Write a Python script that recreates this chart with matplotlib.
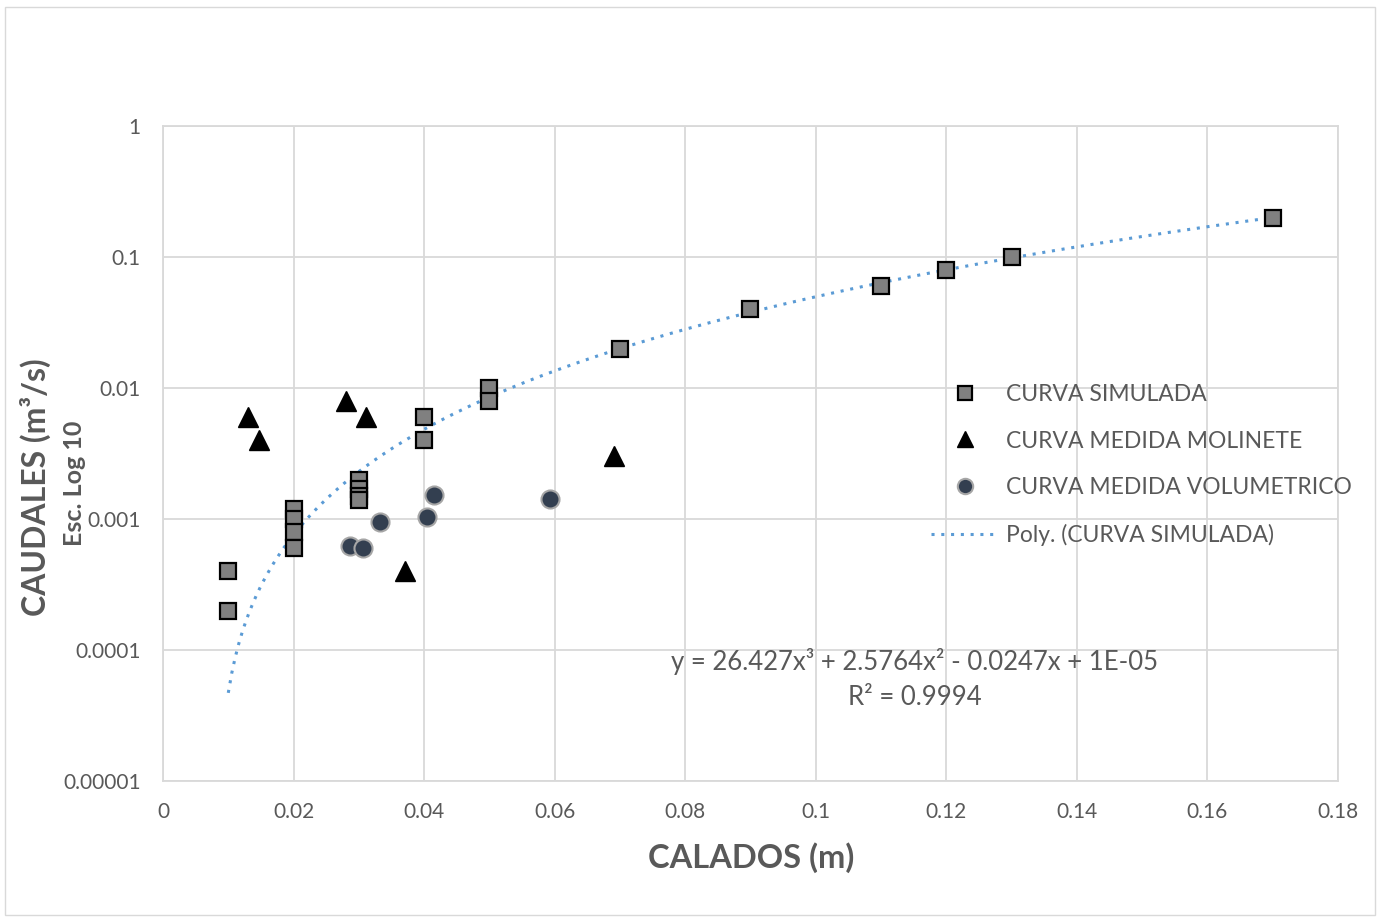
import numpy as np
import matplotlib
matplotlib.use("Agg")
import matplotlib.pyplot as plt
from matplotlib.ticker import FixedLocator, FuncFormatter, NullLocator
from matplotlib.patches import Rectangle

plt.rcParams['font.family'] = ['Lato', 'DejaVu Sans']

# CURVA SIMULADA
sim_x = [0.01, 0.01, 0.02, 0.02, 0.02, 0.02, 0.03, 0.03, 0.03, 0.03,
         0.04, 0.04, 0.05, 0.05, 0.07, 0.09, 0.11, 0.12, 0.13, 0.17]
sim_q = [0.0004, 0.0002, 0.0012, 0.001, 0.0008, 0.0006, 0.002, 0.0017, 0.0015, 0.0014,
         0.006, 0.004, 0.01, 0.008, 0.02, 0.04, 0.06, 0.08, 0.1, 0.2]

# CURVA MEDIDA MOLINETE
mol_x = [0.013, 0.0147, 0.028, 0.0311, 0.0371, 0.0691]
mol_q = [0.006, 0.004, 0.008, 0.006, 0.0004, 0.003]

# CURVA MEDIDA VOLUMETRICO
vol_x = [0.0286, 0.0306, 0.0332, 0.0404, 0.0415, 0.0593]
vol_q = [0.00062, 0.0006, 0.00095, 0.00104, 0.00152, 0.00142]

# Poly. (CURVA SIMULADA) coefficients as shown on the chart
poly_coef = [26.427, 2.5764, -0.0247, 1e-05]
poly_range = [0.01, 0.17]

x_ticks = [0, 0.02, 0.04, 0.06, 0.08, 0.1, 0.12, 0.14, 0.16, 0.18]
y_ticks = [0.00001, 0.0001, 0.001, 0.01, 0.1, 1]
y_labels = ['0.00001', '0.0001', '0.001', '0.01', '0.1', '1']

grey = '#595959'
W, H = 1381, 918
fig = plt.figure(figsize=(W / 100, H / 100), dpi=100)
fig.patches.append(Rectangle((5 / W, 3 / H), 1370 / W, 908 / H, transform=fig.transFigure,
                             fill=False, edgecolor='#d9d9d9', linewidth=1))
ax = fig.add_axes([163 / W, 1 - 781 / H, 1175 / W, 655 / H])

ax.set_yscale('log')
ax.set_xlim(0, 0.18)
ax.set_ylim(1e-5, 1)

xs = np.linspace(poly_range[0], poly_range[1], 300)
ax.plot(xs, np.polyval(poly_coef, xs), linestyle=(0, (1, 2.2)), color='#5b9bd5',
        linewidth=2.2, label='Poly. (CURVA SIMULADA)', zorder=2)

ax.plot(sim_x, sim_q, 's', markersize=12, markerfacecolor='#808080',
        markeredgecolor='black', markeredgewidth=1.6, label='CURVA SIMULADA', zorder=3)
ax.plot(mol_x, mol_q, '^', markersize=14, markerfacecolor='black',
        markeredgecolor='black', label='CURVA MEDIDA MOLINETE', zorder=3)
ax.plot(vol_x, vol_q, 'o', markersize=13, markerfacecolor='#333f50',
        markeredgecolor='#a6a6a6', markeredgewidth=1.5, label='CURVA MEDIDA VOLUMETRICO', zorder=3)

ax.xaxis.set_major_locator(FixedLocator(x_ticks))
ax.xaxis.set_major_formatter(FuncFormatter(lambda v, p: '{:g}'.format(round(v, 2))))
ax.yaxis.set_major_locator(FixedLocator(y_ticks))
ax.yaxis.set_major_formatter(FuncFormatter(lambda v, p: y_labels[p] if p is not None and p < len(y_labels) else ''))
ax.yaxis.set_minor_locator(NullLocator())
ax.tick_params(length=0, labelsize=15, labelcolor=grey)
ax.tick_params(axis='x', pad=15)
ax.tick_params(axis='y', pad=16)
ax.grid(True, color='#d9d9d9', linewidth=1.3)
ax.set_axisbelow(True)
for s in ax.spines.values():
    s.set_color('#d9d9d9')
    s.set_linewidth(1.3)

fig.text(751 / W, 1 - 858 / H, 'CALADOS (m)', fontsize=23.5, fontweight='bold',
         color=grey, ha='center', va='center')
fig.text(35 / W, 1 - 487 / H, 'CAUDALES (m³/s)', rotation=90, fontsize=23,
         fontweight='bold', color=grey, ha='center', va='center')
fig.text(75 / W, 1 - 483 / H, 'Esc. Log 10', rotation=90, fontsize=18,
         fontweight='bold', color=grey, ha='center', va='center')

fig.text(915 / W, 1 - 679 / H, 'y = 26.427x³ + 2.5764x² - 0.0247x + 1E-05\nR² = 0.9994',
         fontsize=18.5, color=grey, ha='center', va='center', linespacing=1.5)

h, l = ax.get_legend_handles_labels()
order = [1, 2, 3, 0]
ax.legend([h[i] for i in order], [l[i] for i in order], loc='upper left',
          bbox_to_anchor=(910 / W, 1 - 363 / H), bbox_transform=fig.transFigure,
          frameon=False, fontsize=16.5, labelcolor=grey, labelspacing=1.13,
          handlelength=3.0, handletextpad=0.3, markerscale=0.85)

fig.savefig('out.png', dpi=100)
